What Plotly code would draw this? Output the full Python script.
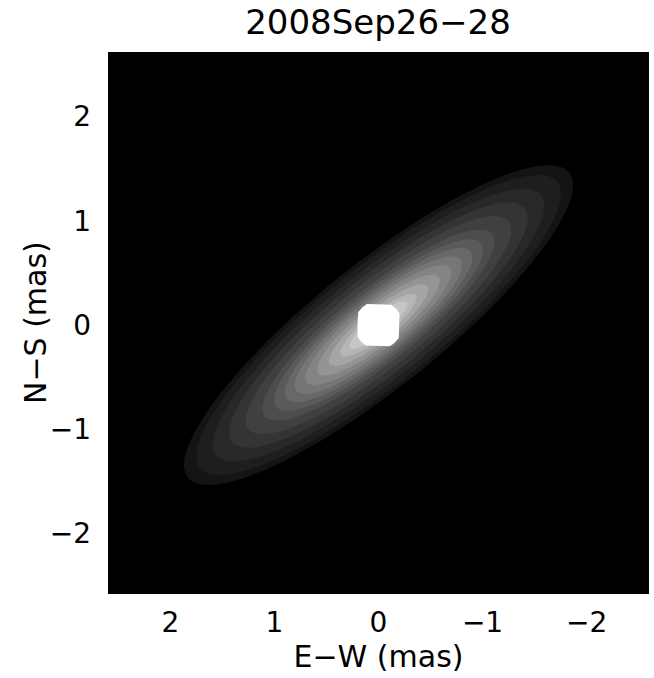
import numpy as np
import plotly.graph_objects as go

# ---- data ----
title_text = "2008Sep26\u221228"
x_title = "E\u2212W (mas)"
y_title = "N\u2212S (mas)"
tick_vals = [2, 1, 0, -1, -2]
tick_text = ["2", "1", "0", "\u22121", "\u22122"]

# semi-major axes (mas) of the filled contour levels, outermost first
band_semimajor = [2.345, 2.20, 2.00, 1.80, 1.60, 1.40, 1.26, 1.13, 1.01, 0.88, 0.74, 0.60, 0.46, 0.35]
# grey level of each filled band (0-255), outermost first
band_grey = [20, 30, 40, 52, 64, 77, 90, 104, 118, 132, 148, 165, 182, 198]
axis_ratio = 0.254          # minor / major
major_angle_deg = 38.6      # angle of major axis above the W direction (display right)
disk_center = [0.0, 0.0]    # (E-W, N-S) mas
star_radius = 0.23          # mas, rounded disc
star_halfwidth = 0.202      # mas, flat sides of the pixelised disc

x_range = [2.6, -2.6]
y_range = [-2.58, 2.62]

fig = go.Figure()

th = np.deg2rad(major_angle_deg)
u = np.array([-np.cos(th), np.sin(th)])   # major-axis direction in data coords (x reversed)
v = np.array([np.sin(th), np.cos(th)])    # minor-axis direction
t = np.linspace(0, 2 * np.pi, 361)

for a, g in zip(band_semimajor, band_grey):
    b = a * axis_ratio
    px = disk_center[0] + a * np.cos(t) * u[0] + b * np.sin(t) * v[0]
    py = disk_center[1] + a * np.cos(t) * u[1] + b * np.sin(t) * v[1]
    col = f"rgb({g},{g},{g})"
    fig.add_trace(go.Scatter(x=px, y=py, mode="lines", fill="toself",
                             fillcolor=col, line=dict(width=0, color=col),
                             hoverinfo="skip", showlegend=False))

# central star: disc clipped to a square (pixelised look)
sxs = np.clip(star_radius * np.cos(t), -star_halfwidth, star_halfwidth)
sys_ = np.clip(star_radius * np.sin(t), -star_halfwidth, star_halfwidth)
fig.add_trace(go.Scatter(x=disk_center[0] + sxs, y=disk_center[1] + sys_,
                         mode="lines", fill="toself", fillcolor="white",
                         line=dict(width=0, color="white"),
                         hoverinfo="skip", showlegend=False))

font_family = "DejaVu Sans"
fig.update_layout(
    width=654, height=678,
    margin=dict(l=108, r=5, t=52, b=84),
    paper_bgcolor="white", plot_bgcolor="black",
    title=dict(text=title_text, x=0.578, xanchor="center", y=0.967, yanchor="middle",
               font=dict(family=font_family, size=34, color="black")),
    font=dict(family=font_family, color="black"),
)
fig.update_xaxes(range=x_range, tickmode="array", tickvals=tick_vals, ticktext=tick_text,
                 showgrid=False, zeroline=False, ticks="", ticklabelstandoff=9,
                 automargin=False,
                 tickfont=dict(size=28, family=font_family),
                 title=dict(text=x_title, font=dict(size=30, family=font_family), standoff=4))
fig.update_yaxes(range=y_range, tickmode="array", tickvals=tick_vals, ticktext=tick_text,
                 showgrid=False, zeroline=False, ticks="", ticklabelstandoff=16,
                 automargin=False,
                 tickfont=dict(size=28, family=font_family))
fig.add_annotation(text=y_title, xref="paper", yref="paper", x=(35 - 108) / 541, y=0.5,
                   xanchor="center", yanchor="middle", textangle=-90, showarrow=False,
                   font=dict(size=30, family=font_family, color="black"))

post = ("document.body.style.margin='0';document.body.style.overflow='hidden';"
        "Plotly.relayout('{plot_id}', {width:654, height:678});")
fig.write_html("out.html", config={"responsive": False, "displayModeBar": False},
               post_script=post)
